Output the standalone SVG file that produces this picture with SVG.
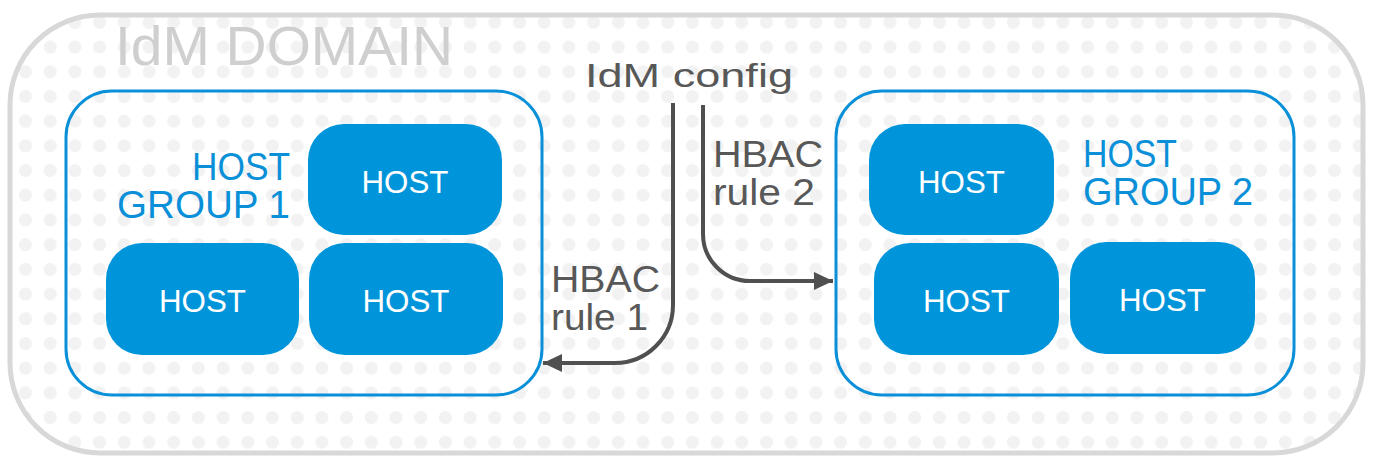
<svg xmlns="http://www.w3.org/2000/svg" width="1374" height="459" viewBox="0 0 1374 459">
<style>
.grp{fill:none;stroke:#0a90d8;stroke-width:3}
.host{fill:#0095da}
.hostt{font-family:"Liberation Sans",Arial,sans-serif;font-size:32px;fill:#ffffff;text-anchor:middle}
.glabel{font-family:"Liberation Sans",Arial,sans-serif;font-size:38px;fill:#0a90d8}
.dark{font-family:"Liberation Sans",Arial,sans-serif;fill:#585858}
.conn{fill:none;stroke:#505050;stroke-width:4}
</style>
<defs>
<pattern id="dots" patternUnits="userSpaceOnUse" x="-11.55" y="9.95" width="24.7" height="24.7">
<circle cx="12.35" cy="12.35" r="6.5" fill="#f2f2f2"/>
</pattern>
<marker id="arr" markerUnits="userSpaceOnUse" markerWidth="20" markerHeight="20" viewBox="0 0 20 20" refX="19" refY="10" orient="auto">
<path d="M0,1 L19,10 L0,19 Z" fill="#505050"/>
</marker>
</defs>
<rect width="1374" height="459" fill="#ffffff"/>
<g id="domain">
<rect x="10" y="15" width="1353" height="438" rx="90" fill="url(#dots)" stroke="#d8d8d8" stroke-width="5"/>
<text x="115" y="65" font-family="Liberation Sans,Arial,sans-serif" font-size="56" fill="#cfcfcf" textLength="338" lengthAdjust="spacingAndGlyphs">IdM DOMAIN</text>
</g>
<g id="group1">
<rect class="grp" x="66" y="91" width="476" height="304" rx="46"/>
<text class="glabel" x="290" y="180" text-anchor="end" textLength="98" lengthAdjust="spacingAndGlyphs">HOST</text>
<text class="glabel" x="290" y="218" text-anchor="end" textLength="173" lengthAdjust="spacingAndGlyphs">GROUP 1</text>
</g>
<g id="g1host1">
<rect class="host" x="308" y="124" width="194" height="111" rx="36"/>
<text class="hostt" x="405" y="192.5" textLength="87" lengthAdjust="spacingAndGlyphs">HOST</text>
</g>
<g id="g1host2">
<rect class="host" x="106" y="243" width="193" height="112" rx="36"/>
<text class="hostt" x="202.5" y="311.5" textLength="87" lengthAdjust="spacingAndGlyphs">HOST</text>
</g>
<g id="g1host3">
<rect class="host" x="309" y="243" width="194" height="112" rx="36"/>
<text class="hostt" x="406" y="311.5" textLength="87" lengthAdjust="spacingAndGlyphs">HOST</text>
</g>
<g id="group2">
<rect class="grp" x="836" y="91" width="458" height="304" rx="46"/>
<text class="glabel" x="1083" y="167" textLength="94" lengthAdjust="spacingAndGlyphs">HOST</text>
<text class="glabel" x="1083" y="205" textLength="170" lengthAdjust="spacingAndGlyphs">GROUP 2</text>
</g>
<g id="g2host1">
<rect class="host" x="869" y="124" width="185" height="111" rx="36"/>
<text class="hostt" x="961.5" y="192.5" textLength="87" lengthAdjust="spacingAndGlyphs">HOST</text>
</g>
<g id="g2host2">
<rect class="host" x="874" y="243" width="185" height="112" rx="36"/>
<text class="hostt" x="966.5" y="311.5" textLength="87" lengthAdjust="spacingAndGlyphs">HOST</text>
</g>
<g id="g2host3">
<rect class="host" x="1070" y="242" width="185" height="112" rx="36"/>
<text class="hostt" x="1162.5" y="310.5" textLength="87" lengthAdjust="spacingAndGlyphs">HOST</text>
</g>
<g id="config">
<text class="dark" x="585" y="87" font-size="34" textLength="208" lengthAdjust="spacingAndGlyphs">IdM config</text>
</g>
<g id="connectors">
<path class="conn" d="M673,103 V305 A58,58 0 0 1 615,363 H543" marker-end="url(#arr)"/>
<path class="conn" d="M703,105 V234 A47,47 0 0 0 750,281 H833" marker-end="url(#arr)"/>
<text class="dark" x="713" y="167" font-size="37" textLength="110" lengthAdjust="spacingAndGlyphs">HBAC</text>
<text class="dark" x="713" y="205" font-size="37" textLength="102" lengthAdjust="spacingAndGlyphs">rule 2</text>
<text class="dark" x="551" y="292" font-size="37" textLength="109" lengthAdjust="spacingAndGlyphs">HBAC</text>
<text class="dark" x="551" y="330" font-size="37" textLength="97" lengthAdjust="spacingAndGlyphs">rule 1</text>
</g>
</svg>
